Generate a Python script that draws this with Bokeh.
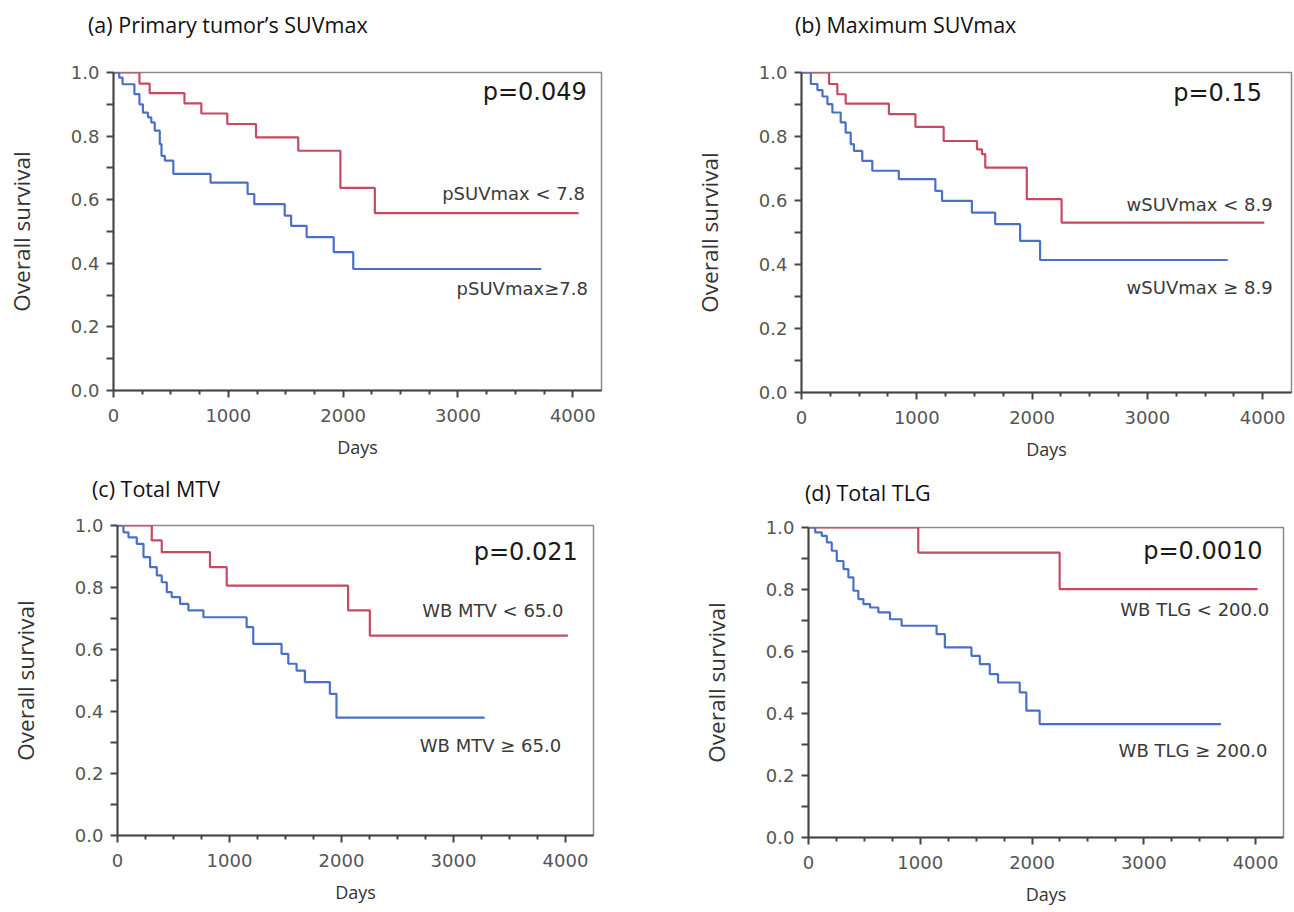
from bokeh.plotting import figure
from bokeh.layouts import column, row
from bokeh.models import FixedTicker, PrintfTickFormatter, Range1d, Div
from bokeh.core.properties import value
from bokeh.embed import file_html
from bokeh.resources import INLINE

RED = "#c64a62"
BLUE = "#4a70c6"

# ---------------- data (days, survival after each event) ----------------
# (a) Primary tumor's SUVmax
a_title = "(a) Primary tumor\u2019s SUVmax"
a_red_t = [226, 315, 618, 765, 991, 1241, 1609, 1976, 2276]
a_red_s = [0.965, 0.935, 0.903, 0.871, 0.838, 0.796, 0.754, 0.637, 0.558]
a_red_end = 4050
a_blue_t = [50, 79, 182, 226, 256, 300, 329, 359, 403, 418, 447, 521, 845, 1168, 1226, 1491, 1547, 1682, 1918, 2088]
a_blue_s = [0.984, 0.963, 0.932, 0.900, 0.874, 0.859, 0.843, 0.817, 0.775, 0.738, 0.723, 0.681, 0.654, 0.618, 0.586, 0.550, 0.518, 0.482, 0.435, 0.382]
a_blue_end = 3726
a_p = "p=0.049"
a_lt = "pSUVmax < 7.8"
a_ge = "pSUVmax\u22657.8"

# (b) Maximum SUVmax
b_title = "(b) Maximum SUVmax"
b_red_t = [239, 311, 383, 758, 988, 1233, 1522, 1565, 1594, 1954, 2256]
b_red_s = [0.964, 0.932, 0.903, 0.870, 0.830, 0.786, 0.760, 0.745, 0.703, 0.604, 0.531]
b_red_end = 4014
b_blue_t = [81, 138, 182, 225, 268, 340, 383, 427, 455, 527, 614, 844, 1161, 1219, 1478, 1680, 1896, 2069]
b_blue_s = [0.964, 0.945, 0.925, 0.901, 0.875, 0.844, 0.812, 0.776, 0.755, 0.724, 0.693, 0.667, 0.630, 0.599, 0.562, 0.526, 0.474, 0.414]
b_blue_end = 3697
b_p = "p=0.15"
b_lt = "wSUVmax < 8.9"
b_ge = "wSUVmax \u2265 8.9"

# (c) Total MTV
c_title = "(c) Total MTV"
c_red_t = [306, 395, 826, 975, 2059, 2253]
c_red_s = [0.952, 0.914, 0.866, 0.806, 0.726, 0.645]
c_red_end = 4021
c_blue_t = [53, 98, 172, 232, 291, 351, 395, 440, 484, 559, 633, 767, 1153, 1212, 1465, 1525, 1599, 1673, 1896, 1955]
c_blue_s = [0.978, 0.962, 0.941, 0.898, 0.866, 0.839, 0.817, 0.785, 0.769, 0.747, 0.726, 0.704, 0.672, 0.618, 0.586, 0.554, 0.532, 0.495, 0.457, 0.380]
c_blue_end = 3278
c_p = "p=0.021"
c_lt = "WB MTV < 65.0"
c_ge = "WB MTV \u2265 65.0"

# (d) Total TLG
d_title = "(d) Total TLG"
d_red_t = [982, 2247]
d_red_s = [0.919, 0.801]
d_red_end = 4018
d_blue_t = [60, 119, 164, 208, 253, 313, 357, 402, 446, 491, 551, 625, 729, 833, 1146, 1220, 1458, 1533, 1622, 1696, 1890, 1949, 2068]
d_blue_s = [0.984, 0.973, 0.952, 0.925, 0.892, 0.866, 0.839, 0.796, 0.769, 0.753, 0.742, 0.726, 0.704, 0.683, 0.656, 0.613, 0.586, 0.559, 0.527, 0.500, 0.468, 0.409, 0.366]
d_blue_end = 3690
d_p = "p=0.0010"
d_lt = "WB TLG < 200.0"
d_ge = "WB TLG \u2265 200.0"

x_major = [0, 1000, 2000, 3000, 4000]
x_minor = [250, 500, 750, 1250, 1500, 1750, 2250, 2500, 2750, 3250, 3500, 3750]
y_major = [0.0, 0.2, 0.4, 0.6, 0.8, 1.0]
y_minor = [0.1, 0.3, 0.5, 0.7, 0.9]


def km_xy(t, s, end):
    xs = [0] + list(t) + [end]
    ys = [1.0] + list(s) + [s[-1]]
    return xs, ys


def panel(title, rt, rs, rend, bt, bs, bend, ptxt, ppos, lt, ltpos, ge, gepos,
          width, height, bl, br, bt_, bb, title_h, title_x):
    head = Div(text=title, width=width, height=title_h, margin=0,
               styles={"font-family": "Open Sans", "font-size": "21.5px",
                       "line-height": f"{title_h}px", "color": "#111111",
                       "padding-left": f"{title_x}px", "white-space": "nowrap",
                       "box-sizing": "border-box"})
    p = figure(width=width, height=height - title_h, output_backend="svg", toolbar_location=None,
               x_range=Range1d(0, 4250), y_range=Range1d(0, 1.0), margin=0,
               min_border_left=bl, min_border_right=br, min_border_top=bt_, min_border_bottom=bb)
    p.grid.visible = False
    p.outline_line_color = "#8a8a8a"
    p.outline_line_width = 1.5
    p.background_fill_color = "white"
    p.border_fill_color = "white"

    p.xaxis.ticker = FixedTicker(ticks=x_major, minor_ticks=x_minor)
    p.yaxis.ticker = FixedTicker(ticks=y_major, minor_ticks=y_minor)
    p.yaxis.formatter = PrintfTickFormatter(format="%.1f")
    for ax in (p.xaxis[0], p.yaxis[0]):
        ax.axis_line_color = "#444444"
        ax.axis_line_width = 2
        ax.major_tick_line_color = "#444444"
        ax.minor_tick_line_color = "#444444"
        ax.major_tick_line_width = 2
        ax.minor_tick_line_width = 2
        ax.major_tick_in = 0
        ax.minor_tick_in = 0
        ax.major_label_text_font = "DejaVu Sans"
        ax.major_label_text_font_size = "18px"
        ax.major_label_text_color = "#555555"
        ax.axis_label_text_font = "Open Sans"
        ax.axis_label_text_font_style = "normal"
        ax.axis_label_text_color = "#333333"
    p.xaxis.axis_label_text_font_size = "18px"
    p.yaxis.axis_label_text_font_size = "22.5px"
    p.xaxis.major_tick_out = 7
    p.xaxis.minor_tick_out = 4
    p.yaxis.major_tick_out = 7
    p.yaxis.minor_tick_out = 7
    p.xaxis.major_label_standoff = 11
    p.yaxis.major_label_standoff = 7
    p.xaxis.axis_label = "Days"
    p.yaxis.axis_label = "Overall survival"
    p.xaxis.axis_label_standoff = 10
    p.yaxis.axis_label_standoff = 31

    xs, ys = km_xy(rt, rs, rend)
    p.step(xs, ys, mode="after", line_color=RED, line_width=2.2)
    xs, ys = km_xy(bt, bs, bend)
    p.step(xs, ys, mode="after", line_color=BLUE, line_width=2.2)

    p.text([ppos[0]], [ppos[1]], text=[ptxt], text_align="right", text_baseline="middle",
           text_font=value("DejaVu Sans"), text_font_size="24px", text_color="#1a1a1a")
    p.text([ltpos[0]], [ltpos[1]], text=[lt], text_align="right", text_baseline="middle",
           text_font=value("DejaVu Sans"), text_font_size="18px", text_color="#3a3a3a")
    p.text([gepos[0]], [gepos[1]], text=[ge], text_align="right", text_baseline="middle",
           text_font=value("DejaVu Sans"), text_font_size="18px", text_color="#3a3a3a")
    return column(head, p, spacing=0)


pa = panel(a_title, a_red_t, a_red_s, a_red_end, a_blue_t, a_blue_s, a_blue_end,
           a_p, (4122, 0.938), a_lt, (4105, 0.62), a_ge, (4131, 0.32),
           690, 470, 113, 89, 22, 80, 50, 88)
pb = panel(b_title, b_red_t, b_red_s, b_red_end, b_blue_t, b_blue_s, b_blue_end,
           b_p, (3994, 0.9375), b_lt, (4086, 0.589), b_ge, (4086, 0.328),
           603, 470, 111, 2, 22, 78, 50, 105)
pc = panel(c_title, c_red_t, c_red_s, c_red_end, c_blue_t, c_blue_s, c_blue_end,
           c_p, (4110, 0.914), c_lt, (3982, 0.726), c_ge, (3961, 0.29),
           690, 440, 117, 97, 17, 75, 38, 92)
pd_ = panel(d_title, d_red_t, d_red_s, d_red_end, d_blue_t, d_blue_s, d_blue_end,
            d_p, (4062, 0.925), d_lt, (4122, 0.734), d_ge, (4107, 0.28),
            603, 440, 118, 10, 11, 73, 46, 115)

layout = column(row(pa, pb, spacing=0), row(pc, pd_, spacing=0), spacing=0)
open("out.html", "w").write(file_html(layout, INLINE))
